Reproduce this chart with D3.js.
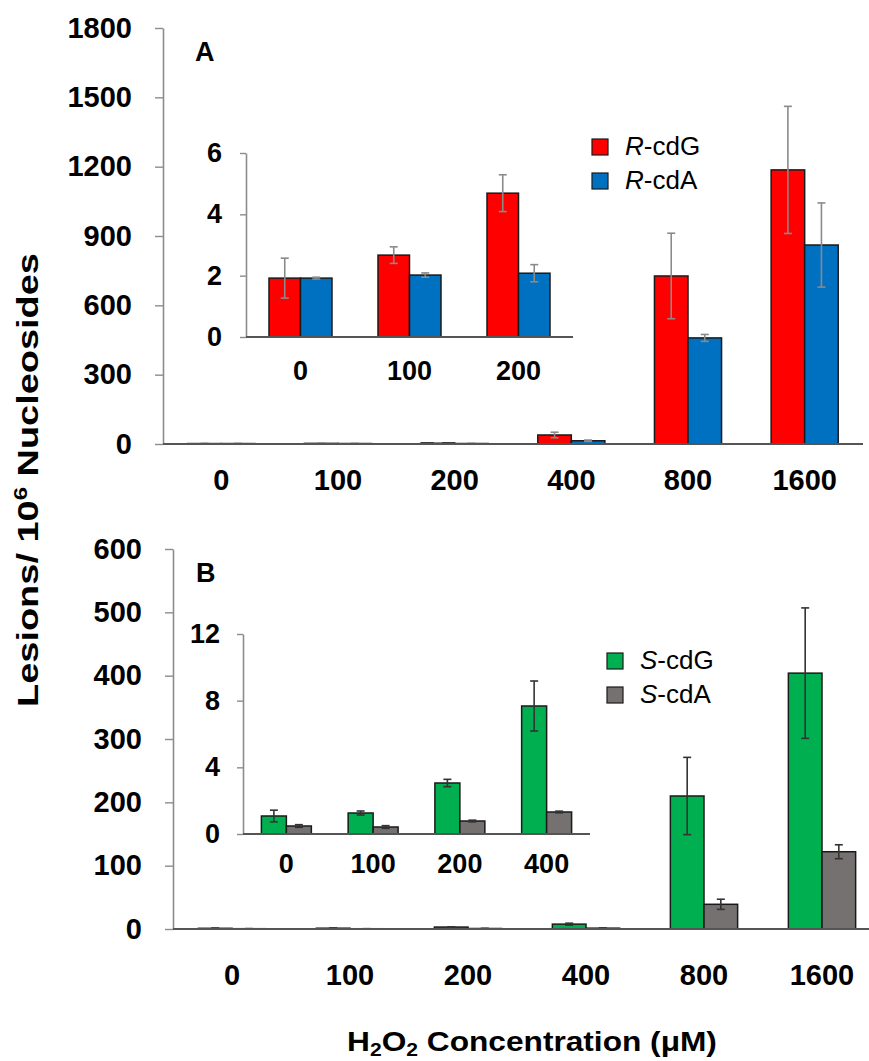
<!DOCTYPE html>
<html><head><meta charset="utf-8">
<script src="https://cdn.jsdelivr.net/npm/d3@7"></script>
<style>body{margin:0;background:#fff} svg{display:block} text{font-family:"Liberation Sans",Arial,sans-serif}</style>
</head><body><svg id="c" width="869" height="1061"></svg>
<script>
const concentrations = ["0","100","200","400","800","1600"];
const insetAConc = ["0","100","200"];
const insetBConc = ["0","100","200","400"];
const rcdG = [1.92, 2.67, 4.69, 39, 727, 1186];
const rcdGErr = [0.65, 0.27, 0.6, 12, 185, 275];
const rcdA = [1.92, 2.02, 2.08, 14, 459, 861];
const rcdAErr = [0.03, 0.07, 0.28, 3, 15, 182];
const scdG = [1.08, 1.26, 3.06, 7.68, 210, 404];
const scdGErr = [0.35, 0.12, 0.22, 1.5, 61, 103];
const scdA = [0.48, 0.42, 0.78, 1.32, 39, 122];
const scdAErr = [0.08, 0.08, 0.05, 0.05, 8, 11];
const ticksA = [0,300,600,900,1200,1500,1800];
const ticksAInset = [0,2,4,6];
const ticksB = [0,100,200,300,400,500,600];
const ticksBInset = [0,4,8,12];
const seriesNames = ["cdG","cdA"];

const svg = d3.select("#c");

function panel(cfg){
  const g = svg.append("g");
  const x = d3.scaleBand().domain(cfg.cats).range([cfg.left, cfg.right]).padding(0);
  const po = (1/cfg.groupFrac - 1);
  const x1 = d3.scaleBand().domain(seriesNames).range([0, x.bandwidth()]).paddingInner(0).paddingOuter(po);
  const y = d3.scaleLinear().domain([0, cfg.max]).range([cfg.bottom, cfg.top]);

  const ya = g.append("g").attr("transform", `translate(${cfg.left},0)`)
    .call(d3.axisLeft(y).tickValues(cfg.ticks).tickFormat(d => String(d))
      .tickSize(cfg.tickLen).tickSizeOuter(0).tickPadding(cfg.tickPad));
  ya.select(".domain").attr("stroke", "#8c8c8c").attr("stroke-width", 1.6);
  ya.selectAll(".tick line").attr("stroke", "#8c8c8c").attr("stroke-width", 1.4);
  ya.selectAll(".tick text").attr("fill", "#000").style("font-size", cfg.fontSize+"px")
    .style("font-weight", "bold").style("font-family", '"Liberation Sans",Arial,sans-serif');

  cfg.series.forEach((s, si) => {
    g.append("g").selectAll("rect").data(s.vals).join("rect")
      .attr("x", (d,i) => x(cfg.cats[i]) + x1(seriesNames[si]))
      .attr("width", x1.bandwidth())
      .attr("y", d => y(d))
      .attr("height", d => cfg.bottom - y(d))
      .attr("fill", s.color).attr("stroke", "#1a1a1a").attr("stroke-width", 1.5);
  });
  cfg.series.forEach((s, si) => {
    const eg = g.append("g").attr("stroke", cfg.errColor).attr("stroke-width", 1.6).attr("fill","none");
    s.vals.forEach((v, i) => {
      const cx = x(cfg.cats[i]) + x1(seriesNames[si]) + x1.bandwidth()/2;
      const e = s.errs[i];
      const yt = y(v+e), yb = y(Math.max(0, v-e));
      eg.append("line").attr("x1", cx).attr("x2", cx).attr("y1", yt).attr("y2", yb);
      eg.append("line").attr("x1", cx-4).attr("x2", cx+4).attr("y1", yt).attr("y2", yt);
      eg.append("line").attr("x1", cx-4).attr("x2", cx+4).attr("y1", yb).attr("y2", yb);
    });
  });
  g.append("line").attr("x1", cfg.left).attr("x2", cfg.right).attr("y1", cfg.bottom).attr("y2", cfg.bottom)
    .attr("stroke", "#555").attr("stroke-width", 2);
  g.selectAll("text.cat").data(cfg.cats).join("text").attr("class","cat")
    .attr("x", d => x(d) + x.bandwidth()/2).attr("y", cfg.labelY)
    .attr("text-anchor", "middle").style("font-size", cfg.fontSize+"px").style("font-weight","bold")
    .text(d => d);
}

panel({cats: concentrations, left:163, right:863, top:28, bottom:444, max:1800, ticks:ticksA,
  tickLen:8, tickPad:23, fontSize:29, labelY:490, groupFrac:0.575, errColor:"#8a8a8a",
  series:[{vals:rcdG, errs:rcdGErr, color:"#ff0000"},{vals:rcdA, errs:rcdAErr, color:"#0070c0"}]});
panel({cats: insetAConc, left:246, right:573, top:153, bottom:337, max:6, ticks:ticksAInset,
  tickLen:6, tickPad:18, fontSize:27, labelY:380, groupFrac:0.578, errColor:"#8a8a8a",
  series:[{vals:rcdG.slice(0,3), errs:rcdGErr.slice(0,3), color:"#ff0000"},{vals:rcdA.slice(0,3), errs:rcdAErr.slice(0,3), color:"#0070c0"}]});
panel({cats: concentrations, left:173, right:881, top:549, bottom:929, max:600, ticks:ticksB,
  tickLen:8, tickPad:23, fontSize:29, labelY:985, groupFrac:0.57, errColor:"#333333",
  series:[{vals:scdG, errs:scdGErr, color:"#00b050"},{vals:scdA, errs:scdAErr, color:"#767171"}]});
panel({cats: insetBConc, left:243, right:590, top:634, bottom:834, max:12, ticks:ticksBInset,
  tickLen:6, tickPad:17, fontSize:27, labelY:873, groupFrac:0.576, errColor:"#333333",
  series:[{vals:scdG.slice(0,4), errs:scdGErr.slice(0,4), color:"#00b050"},{vals:scdA.slice(0,4), errs:scdAErr.slice(0,4), color:"#767171"}]});

svg.append("text").attr("x",195).attr("y",61).style("font-size","27px").style("font-weight","bold").text("A");
svg.append("text").attr("x",196).attr("y",582).style("font-size","27px").style("font-weight","bold").text("B");

function legend(x, y, items){
  items.forEach((it, i) => {
    const yy = y + i*34;
    svg.append("rect").attr("x", x).attr("y", yy).attr("width", 16).attr("height", 16)
      .attr("fill", it.color).attr("stroke", "#1a1a1a").attr("stroke-width", 1.2);
    const t = svg.append("text").attr("x", x+33).attr("y", yy+16).style("font-size","26px");
    t.append("tspan").style("font-style","italic").text(it.pre);
    t.append("tspan").text("-" + it.name);
  });
}
legend(592, 139, [{pre:"R", name:"cdG", color:"#ff0000"},{pre:"R", name:"cdA", color:"#0070c0"}]);
legend(607, 653, [{pre:"S", name:"cdG", color:"#00b050"},{pre:"S", name:"cdA", color:"#767171"}]);

const yt = svg.append("text").attr("text-anchor","middle")
  .style("font-size","30px").style("font-weight","bold");
yt.append("tspan").text("Lesions/ 10");
yt.append("tspan").attr("dy",-11).style("font-size","19px").text("6");
yt.append("tspan").attr("dy",11).text(" Nucleosides");

const xt = svg.append("text").attr("text-anchor","middle")
  .style("font-size","27px").style("font-weight","bold");
xt.append("tspan").text("H");
xt.append("tspan").attr("dy",5).style("font-size","18px").text("2");
xt.append("tspan").attr("dy",-5).text("O");
xt.append("tspan").attr("dy",5).style("font-size","18px").text("2");
xt.append("tspan").attr("dy",-5).text(" Concentration (\u03bcM)");

function fitW(sel, target, cx, cy, rot){
  const w = sel.node().getComputedTextLength();
  const s = target / w;
  sel.attr("transform", `translate(${cx},${cy})` + (rot ? " rotate(-90)" : "") + ` scale(${s},1)`);
}
fitW(yt, 454, 38, 480, true);
fitW(xt, 370, 532, 1051, false);
</script></body></html>
